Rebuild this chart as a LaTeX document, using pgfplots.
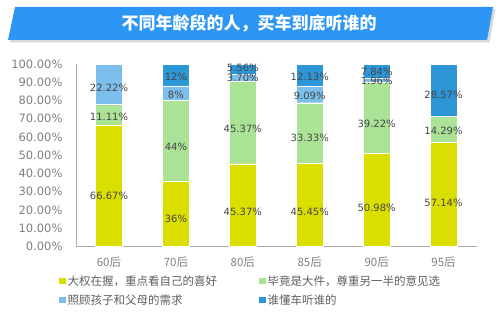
\documentclass[border=0pt]{standalone}
\usepackage{pgfplots}
\pgfplotsset{compat=1.18}
\usepackage{pgfplotstable}
\usepackage{fontspec}
\setmainfont{DejaVu Sans}
\newfontfamily\cjk{Noto Sans CJK SC}
\definecolor{cA}{RGB}{218,223,0}
\definecolor{cB}{RGB}{170,226,150}
\definecolor{cC}{RGB}{124,190,236}
\definecolor{cD}{RGB}{45,150,215}
\definecolor{titlec}{RGB}{45,150,245}
\definecolor{tickc}{RGB}{128,128,128}
\definecolor{labc}{RGB}{70,70,70}
\definecolor{legc}{RGB}{95,95,95}
\definecolor{axisc}{RGB}{170,170,170}

\pgfplotstableread{
x y lab sh
0 66.67 66.67\% -30.42
1 36 36\% -16.43
2 45.37 45.37\% -20.70
3 45.45 45.45\% -20.74
4 50.98 50.98\% -23.26
5 57.14 57.14\% -26.07
}\sA
\pgfplotstableread{
x y lab sh
0 11.11 11.11\% -5.07
1 44 44\% -20.08
2 45.37 45.37\% -20.70
3 33.33 33.33\% -15.21
4 39.22 39.22\% -17.90
5 14.29 14.29\% -6.52
}\sB
\pgfplotstableread{
x y lab sh
0 22.22 22.22\% -10.14
1 8 8\% -3.65
2 3.70 3.70\% -1.69
3 9.09 9.09\% -4.15
4 1.96 1.96\% -0.89
5 0 {} 0
}\sC
\pgfplotstableread{
x y lab sh
0 0 {} 0
1 12 12\% -5.48
2 5.56 5.56\% 3.46
3 12.13 12.13\% -5.53
4 7.84 7.84\% -3.58
5 28.57 28.57\% -13.04
}\sD

\begin{document}
\begin{tikzpicture}
\path[use as bounding box] (0pt,0pt) rectangle (500pt,335pt);
\fill[gray!30] (10pt,292.5pt) -- (489.5pt,292.5pt) -- (495.5pt,326pt) -- (17pt,326pt) -- cycle;
\fill[titlec] (8pt,295pt) -- (487pt,295pt) -- (493pt,328pt) -- (15pt,328pt) -- cycle;
\node[text=white, font=\cjk\bfseries\fontsize{17}{20}\selectfont] at (249pt,312pt) {不同年龄段的人，买车到底听谁的};
\begin{axis}[
  at={(76pt,88.5pt)}, anchor=south west,
  scale only axis, width=401pt, height=182.5pt,
  ybar stacked, bar width=26.7pt,
  xmin=-0.493, xmax=5.5, ymin=0, ymax=100,
  xtick={0,1,2,3,4,5},
  xticklabels={60后,70后,80后,85后,90后,95后},
  ytick={0,10,...,100},
  yticklabel={\pgfmathprintnumber[fixed,fixed zerofill,precision=2]{\tick}\%},
  /pgf/number format/assume math mode=true,
  axis x line*=bottom, axis y line*=left,
  axis line style={draw=axisc, line width=0.8pt},
  major tick length=0pt,
  tick label style={text=tickc},
  yticklabel style={font=\fontsize{11.5}{13}\selectfont, xshift=-10pt},
  xticklabel style={font=\cjk\fontsize{11.5}{13}\selectfont, yshift=-7pt},
  every axis plot/.append style={draw=white, line width=0.4pt},
  point meta=explicit symbolic,
  visualization depends on={\thisrow{sh} \as \mysh},
  nodes near coords={\pgfplotspointmeta},
  every node near coord/.append style={anchor=center, text=labc, font=\fontsize{10}{11}\selectfont, yshift=\mysh pt/3},
  legend columns=2,
  legend cell align=left,
  legend image code/.code={\fill[#1,draw=none] (0pt,-3.25pt) rectangle (6.5pt,3.25pt);},
  legend style={at={(-0.05,-0.135)}, anchor=north west, draw=none, fill=none,
    font=\cjk\fontsize{11.5}{13}\selectfont, text=legc, row sep=4pt,
    /tikz/every even column/.append style={column sep=40pt}},
]
\addplot[fill=cA] table[x=x,y=y,meta=lab] {\sA};
\addplot[fill=cB] table[x=x,y=y,meta=lab] {\sB};
\addplot[fill=cC] table[x=x,y=y,meta=lab] {\sC};
\addplot[fill=cD] table[x=x,y=y,meta=lab] {\sD};
\legend{大权在握，重点看自己的喜好,毕竟是大件，尊重另一半的意见选,照顾孩子和父母的需求,谁懂车听谁的}
\end{axis}
\end{tikzpicture}
\end{document}
